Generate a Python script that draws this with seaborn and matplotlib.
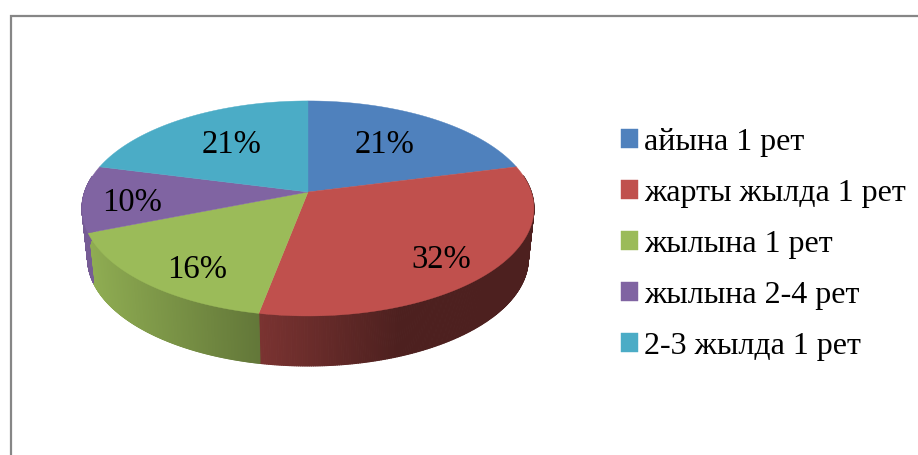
import numpy as np
import matplotlib
matplotlib.use("Agg")
import matplotlib.pyplot as plt
import seaborn as sns
from matplotlib.path import Path
from matplotlib.transforms import Transform
from matplotlib.colors import to_rgb
from matplotlib.collections import PolyCollection

categories = ["айына 1 рет", "жарты жылда 1 рет", "жылына 1 рет", "жылына 2-4 рет", "2-3 жылда 1 рет"]
values = [21, 32, 16, 10, 21]
colors = ["#4F81BD", "#C0504D", "#9BBB59", "#8064A2", "#4BACC6"]
label_radius = [0.60, 0.76, 0.66, 0.78, 0.60]
label_shift = [(0, -1), (-1, 8), (-9, 20), (-1, 6), (0, -1)]

sns.set_theme(style="white")
plt.rcParams["font.family"] = ["Liberation Serif", "DejaVu Serif"]

W, H = 918, 455
CX, CY, AX, AY, K = 308.0, 192.0, 223.3, 105.0, 0.153
DEPTH, SHRINK = 50.0, 0.975


def project(u, v, lower=False):
    """Map a point of the unit pie disc to the tilted picture plane."""
    d = 1 + K * v
    x, y = AX * u / d, -AY * v / d
    if lower:
        return CX + SHRINK * x, CY + DEPTH + y
    return CX + x, CY + y


class Tilt(Transform):
    input_dims = output_dims = 2
    has_inverse = False
    is_affine = False

    def transform_non_affine(self, values):
        v = np.asarray(values, float)
        return np.column_stack(project(v[:, 0], v[:, 1]))

    def transform_path_non_affine(self, path):
        pts = []
        for curve, code in path.iter_bezier():
            if code == Path.MOVETO:
                pts.append(curve(np.array([0.0])))
            else:
                pts.append(curve(np.linspace(0, 1, 24))[1:])
        verts = np.vstack(pts)
        return Path(self.transform_non_affine(verts))


def shade(x):
    return np.clip(0.92 - (x - 90) / 310 * 0.52, 0.40, 0.92)


fig = plt.figure(figsize=(W / 100, H / 100), dpi=100, facecolor="white")
ax = fig.add_axes([0, 0, 1, 1])

wedges, _ = ax.pie(values, colors=colors, startangle=90, counterclock=False, radius=1)
ax.set_aspect("auto")
ax.set_xlim(0, W)
ax.set_ylim(H, 0)
ax.set_axis_off()

tilt = Tilt() + ax.transData
for w in wedges:
    w.set_transform(tilt)
    w.set_zorder(3)
    w.set_edgecolor(w.get_facecolor())
    w.set_linewidth(0.3)

# curved side wall, split in narrow strips for the horizontal shading
fractions = np.cumsum([0] + values) / sum(values)
for i, col in enumerate(colors):
    a0, a1 = np.pi / 2 - 2 * np.pi * fractions[i], np.pi / 2 - 2 * np.pi * fractions[i + 1]
    ang = np.linspace(a0, a1, 240)
    polys, faces = [], []
    rgb = np.array(to_rgb(col))
    for p, q in zip(ang[:-1], ang[1:]):
        if np.sin(p) > 0.15 and np.sin(q) > 0.15:
            continue
        t0, t1 = project(np.cos(p), np.sin(p)), project(np.cos(q), np.sin(q))
        b0, b1 = project(np.cos(p), np.sin(p), True), project(np.cos(q), np.sin(q), True)
        polys.append([t0, t1, b1, b0])
        faces.append(tuple(rgb * shade((t0[0] + t1[0]) / 2)))
    if polys:
        ax.add_collection(PolyCollection(polys, facecolors=faces, edgecolors=faces,
                                         linewidths=0.8, zorder=2))

# percentage labels
for i, v in enumerate(values):
    mid = np.pi / 2 - np.pi * (fractions[i] + fractions[i + 1])
    x, y = project(label_radius[i] * np.cos(mid), label_radius[i] * np.sin(mid))
    ax.text(x + label_shift[i][0], y + label_shift[i][1], f"{v}%", ha="center", va="center",
            fontsize=23.5, color="black", zorder=5)

# chart frame
ax.plot([11, 11, W], [H, 16, 16], color="#868686", lw=1.6, solid_joinstyle="miter", zorder=1)

ax.legend(wedges, categories, loc="upper left", bbox_to_anchor=(621 / W, 1 - 128 / H),
          frameon=False, fontsize=23, handlelength=0.53, handleheight=0.53, labelcolor="black",
          handletextpad=0.2, labelspacing=0.69, borderpad=0, borderaxespad=0)

fig.savefig("out.png", dpi=100)
